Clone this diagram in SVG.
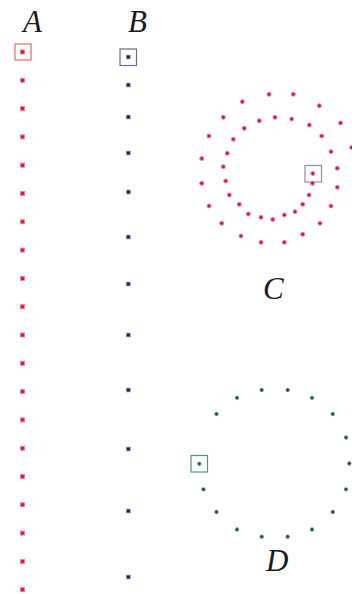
<svg xmlns="http://www.w3.org/2000/svg" width="352" height="594" viewBox="0 0 352 594">
<defs>
<style>
.lbl{font-family:"Liberation Serif","Times New Roman",serif;font-style:italic;font-size:31px;fill:#1a1a1a}
.a{fill:#d0203a;stroke:#f08090;stroke-width:0.9}
.b{fill:#1e1e5a;stroke:#9090c0;stroke-width:0.7}
.c{fill:#b8205e;stroke:#f27aaa;stroke-width:1}
.d{fill:#1f4f45;stroke:#90b8b0;stroke-width:0.7}
.fr{fill:none;stroke-width:1.2}
</style>
<rect id="da" x="-2" y="-2" width="4" height="4"/>
<rect id="db" x="-1.9" y="-1.9" width="3.8" height="3.8"/>
<circle id="dc" r="2"/>
<circle id="dd" r="1.9"/>
</defs>
<rect width="352" height="594" fill="#ffffff"/>

<g id="series-A">
<text class="lbl" x="23" y="32">A</text>
<rect class="fr" x="15" y="44" width="16" height="16" stroke="#e46a6a"/>
<g class="a">
<use href="#da" x="22.5" y="52"/>
<use href="#da" x="22.5" y="80.3"/>
<use href="#da" x="22.5" y="108.6"/>
<use href="#da" x="22.5" y="136.9"/>
<use href="#da" x="22.5" y="165.2"/>
<use href="#da" x="22.5" y="193.5"/>
<use href="#da" x="22.5" y="221.8"/>
<use href="#da" x="22.5" y="250.1"/>
<use href="#da" x="22.5" y="278.4"/>
<use href="#da" x="22.5" y="306.7"/>
<use href="#da" x="22.5" y="335"/>
<use href="#da" x="22.5" y="363.3"/>
<use href="#da" x="22.5" y="391.6"/>
<use href="#da" x="22.5" y="419.9"/>
<use href="#da" x="22.5" y="448.2"/>
<use href="#da" x="22.5" y="476.5"/>
<use href="#da" x="22.5" y="504.8"/>
<use href="#da" x="22.5" y="533.1"/>
<use href="#da" x="22.5" y="561.4"/>
<use href="#da" x="22.5" y="589.7"/>
</g>
</g>

<g id="series-B">
<text class="lbl" x="128" y="32">B</text>
<rect class="fr" x="120" y="49" width="16.5" height="16.5" stroke="#6a6aa0"/>
<g class="b">
<use href="#db" x="128.3" y="57"/>
<use href="#db" x="128.3" y="85"/>
<use href="#db" x="128.3" y="117"/>
<use href="#db" x="128.3" y="153"/>
<use href="#db" x="128.3" y="192"/>
<use href="#db" x="128.3" y="237"/>
<use href="#db" x="128.3" y="284"/>
<use href="#db" x="128.3" y="335"/>
<use href="#db" x="128.3" y="390"/>
<use href="#db" x="128.3" y="449"/>
<use href="#db" x="128.3" y="511"/>
<use href="#db" x="128.3" y="577"/>
</g>
</g>

<g id="series-C">
<text class="lbl" x="263" y="299">C</text>
<rect class="fr" x="305" y="165.5" width="16.5" height="16.5" stroke="#a080b0"/>
<g class="c">
<use href="#dc" x="269" y="94.3"/>
<use href="#dc" x="293.3" y="94.3"/>
<use href="#dc" x="319.3" y="105.7"/>
<use href="#dc" x="340.5" y="123"/>
<use href="#dc" x="351.7" y="147.5"/>
<use href="#dc" x="337.3" y="168.3"/>
<use href="#dc" x="337.3" y="187.3"/>
<use href="#dc" x="331" y="206"/>
<use href="#dc" x="320" y="223.3"/>
<use href="#dc" x="302.7" y="234.3"/>
<use href="#dc" x="284.3" y="242.3"/>
<use href="#dc" x="261" y="242.3"/>
<use href="#dc" x="241" y="236"/>
<use href="#dc" x="221.7" y="223.3"/>
<use href="#dc" x="209" y="206"/>
<use href="#dc" x="201.7" y="183.3"/>
<use href="#dc" x="201.7" y="158.5"/>
<use href="#dc" x="209" y="136"/>
<use href="#dc" x="223.3" y="117.3"/>
<use href="#dc" x="242.3" y="101.7"/>
<use href="#dc" x="259.3" y="120.7"/>
<use href="#dc" x="275" y="117.3"/>
<use href="#dc" x="291.7" y="119"/>
<use href="#dc" x="309.3" y="125"/>
<use href="#dc" x="321.7" y="136"/>
<use href="#dc" x="331" y="151.7"/>
<use href="#dc" x="312.8" y="173.5"/>
<use href="#dc" x="312.5" y="183.3"/>
<use href="#dc" x="309" y="195"/>
<use href="#dc" x="302.7" y="204.3"/>
<use href="#dc" x="295" y="211.7"/>
<use href="#dc" x="284.3" y="215"/>
<use href="#dc" x="272.7" y="219.5"/>
<use href="#dc" x="261" y="217.3"/>
<use href="#dc" x="248.3" y="214"/>
<use href="#dc" x="239.3" y="204.3"/>
<use href="#dc" x="229.3" y="195"/>
<use href="#dc" x="225.7" y="181"/>
<use href="#dc" x="223.3" y="166.7"/>
<use href="#dc" x="227.3" y="153.3"/>
<use href="#dc" x="233.3" y="139.3"/>
<use href="#dc" x="244.3" y="128.3"/>
</g>
</g>

<g id="series-D">
<text class="lbl" x="266" y="571">D</text>
<rect class="fr" x="191" y="455.5" width="16.5" height="16.5" stroke="#5a9088"/>
<g class="d">
<use href="#dd" x="261.7" y="390"/>
<use href="#dd" x="287.7" y="390"/>
<use href="#dd" x="312" y="397.8"/>
<use href="#dd" x="332.8" y="414"/>
<use href="#dd" x="346" y="437.5"/>
<use href="#dd" x="349.3" y="463.5"/>
<use href="#dd" x="346" y="489.3"/>
<use href="#dd" x="332.8" y="512"/>
<use href="#dd" x="312" y="529.5"/>
<use href="#dd" x="287.7" y="536.7"/>
<use href="#dd" x="261.7" y="536.7"/>
<use href="#dd" x="237" y="529.5"/>
<use href="#dd" x="216.5" y="512"/>
<use href="#dd" x="203.5" y="489.3"/>
<use href="#dd" x="199.3" y="463.8"/>
<use href="#dd" x="216.5" y="414"/>
<use href="#dd" x="237" y="397.8"/>
</g>
</g>
</svg>
